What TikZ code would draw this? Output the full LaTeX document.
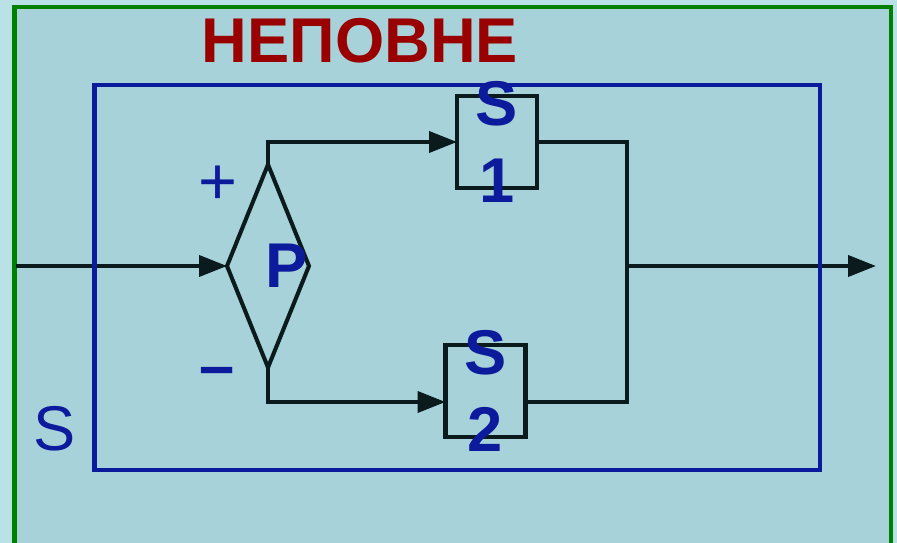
\documentclass[tikz,border=0pt]{standalone}
\usepackage{fontspec}
\setmainfont{Liberation Sans}
\usepackage{tikz}
\usetikzlibrary{arrows.meta,shapes.geometric,positioning}

\definecolor{paleback}{HTML}{BAE1E5}
\definecolor{panelfill}{HTML}{A7D2D9}
\definecolor{framegreen}{HTML}{008000}
\definecolor{sysblue}{HTML}{0C1A9C}
\definecolor{titlered}{HTML}{990000}
\definecolor{wireblack}{HTML}{0B1A1C}

\newcommand{\diagfont}{\fontsize{36}{44}\selectfont}

\begin{document}
\begin{tikzpicture}[
        x=0.02cm, y=-0.02cm,
        >={Triangle[length=5.6mm,width=4.2mm]},
        link/.style={draw=wireblack, line width=2.3pt},
        arr/.style={link, ->},
        bigtext/.style={text=sysblue, font=\diagfont\bfseries, align=center, inner sep=0pt},
        block/.style={
                draw=wireblack, line width=2.3pt,
                minimum width=1.6cm, minimum height=1.83cm,
                inner sep=0pt, outer sep=0pt
            },
        decide/.style={
                diamond, draw=wireblack, line width=2.3pt,
                minimum width=1.64cm, minimum height=4.06cm,
                inner sep=0pt, outer sep=0pt
            },
        sysframe/.style={draw=sysblue, line width=2.3pt},
    ]

    % page and outer panel
    \clip (0,0) rectangle (897,543);
    \fill[paleback] (0,0) rectangle (897,543);
    \filldraw[fill=panelfill, draw=framegreen, line width=2.8pt] (14.5,7) rectangle (891,580);

    \node[text=titlered, font=\diagfont\bfseries, anchor=base, inner sep=0pt] (title) at (360,63) {НЕПОВНЕ};

    % blocks
    \node[decide, label={[bigtext, xshift=0.38cm]center:P}] (P) at (268,266) {};
    \node[block, label={[bigtext]center:S\\1}] (S1) at (497,142) {};
    \node[block, label={[bigtext]center:S\\2}] (S2) at (485.5,391) {};

    \node[text=sysblue, font=\fontsize{38}{44}\selectfont, inner sep=0pt] (plus) at (218,185) {+};
    \node[text=sysblue, font=\diagfont\bfseries, inner sep=0pt] (minus) at (217,377) {–};
    \node[text=sysblue, font=\diagfont, anchor=base, inner sep=0pt] (sname) at (55,451) {S};

    \coordinate (src) at (16,266);
    \coordinate (s2in) at (445.5,402);
    \coordinate (j1) at (627,142);
    \coordinate (j2) at (627,402);
    \coordinate (dst) at (876,266);

    % connectors
    \draw[arr] (src) -- (P.west);
    \draw[arr] (P.north) |- (S1.west);
    \draw[arr] (P.south) |- (s2in);
    \draw[link] (S1.east) -- (j1) -- (j2) -- (S2.east |- j2);
    \draw[arr] (j1 |- dst) -- (dst);

    % system boundary
    \draw[sysframe] (94.5,85) rectangle (820,470);
\end{tikzpicture}
\end{document}
